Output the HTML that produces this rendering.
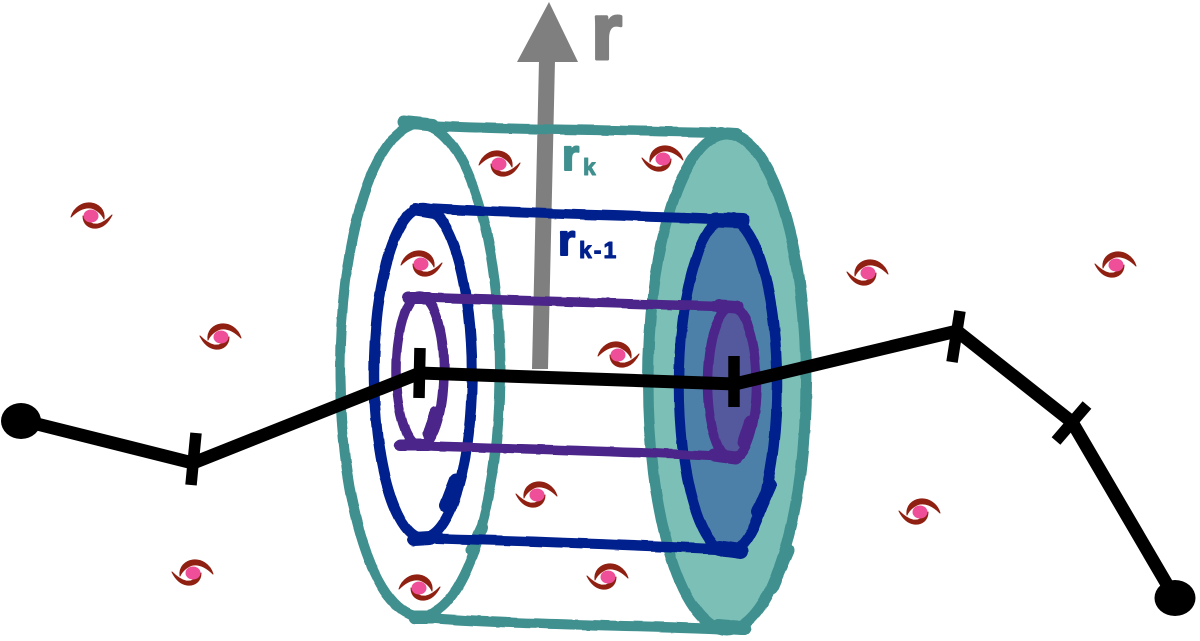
<!DOCTYPE html>
<html lang="en">
<head>
<meta charset="utf-8">
<title>Cylinder diagram</title>
<style>
html,body{margin:0;padding:0;background:#fff;width:1200px;height:641px;overflow:hidden}
svg{display:block}
text{font-family:"Liberation Sans",sans-serif;font-weight:700;stroke-linejoin:round}
</style>
</head>
<body>
<svg width="1200" height="641" viewBox="0 0 1200 641" xmlns="http://www.w3.org/2000/svg">
<defs>
<filter id="rough" filterUnits="userSpaceOnUse" x="0" y="0" width="1200" height="641" color-interpolation-filters="sRGB">
<feTurbulence type="fractalNoise" baseFrequency="0.04" numOctaves="2" seed="4"/>
<feDisplacementMap in="SourceGraphic" scale="3" xChannelSelector="R" yChannelSelector="G"/>
</filter>
<g id="gal">
<path d="M-20,1 C-17,-9 -8,-14 0,-13 C8,-12 14,-6 13,3 C11,-2 5,-7 0,-8 C-7,-9 -14,-5 -20,1Z" fill="#8f2012" stroke="#8f2012" stroke-width="1" stroke-linejoin="round"/>
<path d="M-8,0 C-8,8 -2,13 6,12 C13,11 18,5 21,-1 C17,3 12,7 7,8 C1,9 -5,5 -8,0Z" fill="#8f2012" stroke="#8f2012" stroke-width="1" stroke-linejoin="round"/>
<ellipse cx="0" cy="0" rx="7.5" ry="6.5" fill="#ee4f98"/>
</g>
</defs>

<!-- arrow -->
<polygon points="549,2 517,62 578,62" fill="#7f7f7f"/>
<polygon points="539,60 555,60 548,369 532,369" fill="#7f7f7f"/>
<text x="591" y="59" font-size="80" fill="#7f7f7f" stroke="#7f7f7f" stroke-width="3">r</text>
<text x="562" y="170" font-size="44" fill="#40908f" stroke="#40908f" stroke-width="2">r</text>
<text x="583" y="175" font-size="23" fill="#40908f" stroke="#40908f" stroke-width="1">k</text>
<text x="558" y="255" font-size="44" fill="#00208d" stroke="#00208d" stroke-width="2">r</text>
<text x="579" y="258" font-size="23" fill="#00208d" stroke="#00208d" stroke-width="1" letter-spacing="2">k-1</text>

<!-- galaxies -->
<use href="#gal" transform="translate(91,216)"/>
<use href="#gal" transform="translate(221,337) scale(-1,1)"/>
<use href="#gal" transform="translate(193,573) scale(-1,1)"/>
<use href="#gal" transform="translate(421,264)"/>
<use href="#gal" transform="translate(499,164)"/>
<use href="#gal" transform="translate(663,159) scale(-1,1)"/>
<use href="#gal" transform="translate(618,355)"/>
<use href="#gal" transform="translate(537,495) scale(-1,1)"/>
<use href="#gal" transform="translate(419,588)"/>
<use href="#gal" transform="translate(608,577) scale(-1,1)"/>
<use href="#gal" transform="translate(868,273) scale(-1,1)"/>
<use href="#gal" transform="translate(1116,265) scale(-1,1)"/>
<use href="#gal" transform="translate(920,512) scale(-1,1)"/>

<g filter="url(#rough)" fill="none" stroke-linecap="round" stroke-linejoin="round">
<!-- teal -->
<g stroke="#40908f" stroke-width="10">
<ellipse cx="420" cy="370" rx="80" ry="246"/>
<path d="M405,124 C480,130 640,130 733,133" stroke-width="10"/>
<path d="M418,617 C500,625 650,625 742,630" stroke-width="10"/>
<ellipse cx="727" cy="382" rx="79" ry="248" fill="#7cbfb7" stroke-width="11"/>
<path d="M404,122 L432,125" stroke-width="13"/>
<path d="M720,133 L736,134" stroke-width="12"/>
<path d="M415,617 L432,617" stroke-width="14"/>
<path d="M718,626 L744,628" stroke-width="14"/>
<path d="M482,528 L472,550" stroke-width="12"/>
<path d="M788,550 L772,588" stroke-width="13"/>
</g>
<!-- blue -->
<g stroke="#00208d" stroke-width="10.5">
<ellipse cx="423" cy="373" rx="49" ry="165"/>
<path d="M415,208 C500,213 650,216 740,220" stroke-width="10"/>
<path d="M415,538 C500,540 650,546 740,550" stroke-width="10"/>
<ellipse cx="728" cy="385" rx="49" ry="167" fill="#4c80a9"/>
<path d="M416,209 L434,212" stroke-width="13"/>
<path d="M716,220 L742,221" stroke-width="15"/>
<path d="M414,539 L430,538" stroke-width="14"/>
<path d="M720,548 L741,551" stroke-width="15"/>
<path d="M456,480 L446,506" stroke-width="13"/>
<path d="M770,485 L758,512" stroke-width="13"/>
</g>
<!-- purple -->
<g stroke="#4b2589" stroke-width="9.5">
<ellipse cx="420" cy="371" rx="24" ry="75"/>
<path d="M408,297 C500,300 650,304 737,307" stroke-width="9.5"/>
<path d="M398,445 C500,448 650,452 730,457" stroke-width="9.5"/>
<ellipse cx="732" cy="383" rx="24.5" ry="76" fill="#54599e"/>
<path d="M408,298 L428,298" stroke-width="12"/>
<path d="M720,306 L737,307" stroke-width="13"/>
<path d="M400,445 L428,445" stroke-width="12"/>
<path d="M714,455 L735,458" stroke-width="13"/>
<path d="M436,412 L429,434" stroke-width="12"/>
<path d="M750,422 L743,443" stroke-width="12"/>
</g>
</g>

<!-- path -->
<g stroke="#000" fill="none">
<polyline points="21,420 193,463 420,373 735,384 957,331 1072,422 1175,598" stroke-width="13" stroke-linejoin="miter"/>
<line x1="196" y1="433" x2="191" y2="485" stroke-width="11.5"/>
<line x1="420" y1="348" x2="419" y2="398" stroke-width="11.5"/>
<line x1="734" y1="356" x2="734" y2="407" stroke-width="11.5"/>
<line x1="960" y1="311" x2="952" y2="362" stroke-width="11.5"/>
<line x1="1087" y1="405" x2="1056" y2="441" stroke-width="11.5"/>
</g>
<ellipse cx="21" cy="421" rx="20" ry="18" fill="#000"/>
<ellipse cx="1175" cy="598" rx="20.5" ry="18" fill="#000"/>
</svg>
</body>
</html>
